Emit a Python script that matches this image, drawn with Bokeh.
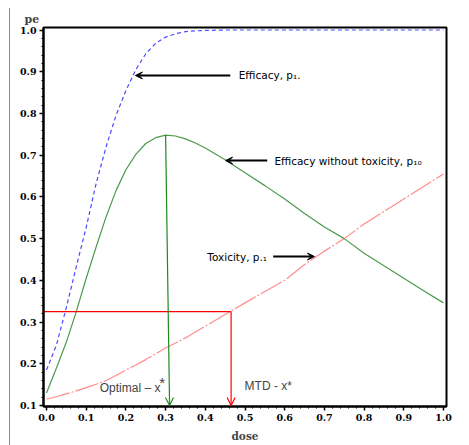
from bokeh.plotting import figure
from bokeh.models import (Arrow, VeeHead, OpenHead, Label, FixedTicker,
                          NumeralTickFormatter, Div)
from bokeh.layouts import row
from bokeh.embed import file_html
from bokeh.resources import INLINE

# dose grid shared by the three probability curves
dose = [0.0, 0.025, 0.05, 0.075, 0.1, 0.125, 0.15, 0.175, 0.2, 0.225, 0.25,
        0.275, 0.3, 0.325, 0.35, 0.375, 0.4, 0.45, 0.5, 0.55, 0.6, 0.65,
        0.7, 0.75, 0.8, 0.85, 0.9, 0.95, 1.0]

# efficacy p1.
efficacy = [0.185, 0.245, 0.335, 0.433, 0.527, 0.632, 0.72, 0.795, 0.855,
            0.905, 0.943, 0.968, 0.983, 0.991, 0.996, 0.998, 0.999, 1.0, 1.0,
            1.0, 1.0, 1.0, 1.0, 1.0, 1.0, 1.0, 1.0, 1.0, 1.0]

# efficacy without toxicity p10
eff_no_tox = [0.13, 0.19, 0.252, 0.325, 0.405, 0.48, 0.552, 0.615, 0.665,
              0.702, 0.728, 0.742, 0.748, 0.746, 0.739, 0.729, 0.717, 0.689,
              0.658, 0.627, 0.595, 0.56, 0.528, 0.5, 0.465, 0.435, 0.405,
              0.375, 0.346]

# toxicity p.1
toxicity = [0.115, 0.121, 0.128, 0.135, 0.143, 0.151, 0.16, 0.172, 0.185,
            0.197, 0.21, 0.224, 0.238, 0.25, 0.262, 0.276, 0.29, 0.318,
            0.346, 0.373, 0.40, 0.438, 0.47, 0.50, 0.535, 0.565, 0.595,
            0.625, 0.655]

tick_values = [0.0, 0.1, 0.2, 0.3, 0.4, 0.5, 0.6, 0.7, 0.8, 0.9, 1.0]
y_tick_values = [0.1, 0.2, 0.3, 0.4, 0.5, 0.6, 0.7, 0.8, 0.9, 1.0]

tox_target = 0.325   # acceptable toxicity level
mtd_dose = 0.465     # maximum tolerated dose
opt_dose = 0.31      # optimal dose
y_floor = 0.1

x_lo, x_hi = -0.0076, 1.0076
p = figure(width=459, height=445, x_range=(x_lo, x_hi), y_range=(0.0976, 1.006),
           output_backend="svg", toolbar_location=None,
           min_border_left=33, min_border_right=23, min_border_top=27,
           min_border_bottom=39, margin=0)
p.grid.visible = False
p.background_fill_color = "white"
p.border_fill_color = "white"
p.outline_line_color = "black"
p.outline_line_width = 2
p.outline_line_alpha = 1

serif = "DejaVu Serif"
p.title.text = "pe"
p.title.align = "left"
p.title.offset = -19
p.title.text_font = serif
p.title.text_font_style = "bold"
p.title.text_font_size = "11px"
p.title.standoff = 4

for ax, ticks in ((p.xaxis[0], tick_values), (p.yaxis[0], y_tick_values)):
    ax.ticker = FixedTicker(ticks=ticks,
                            minor_ticks=[round(0.02 * i, 2) for i in range(51)])
    ax.formatter = NumeralTickFormatter(format="0.0")
    ax.axis_line_width = 2
    ax.axis_line_color = "black"
    ax.major_tick_out = 4
    ax.major_tick_in = 0
    ax.minor_tick_out = 2
    ax.minor_tick_in = 0
    ax.major_tick_line_width = 1.5
    ax.major_label_text_font = serif
    ax.major_label_text_font_style = "bold"
    ax.major_label_text_font_size = "9.5px"
    ax.major_label_text_color = "black"
    ax.major_label_standoff = 3

p.xaxis.axis_label = "dose"
p.xaxis.axis_label_text_font = serif
p.xaxis.axis_label_text_font_style = "bold"
p.xaxis.axis_label_text_font_size = "10.5px"
p.xaxis.axis_label_standoff = 6

# curves
p.line(dose, efficacy, line_color="#4b4bff", line_width=1.2, line_dash="4 3")
p.line(dose, eff_no_tox, line_color="#4c9a4c", line_width=1.2)
p.line(dose, toxicity, line_color="#ff5a5a", line_width=1.2,
       line_dash="24 2 2 2", line_alpha=0.7)

# optimal dose: from the peak of p10 down to the axis
i_peak = max(range(len(dose)), key=lambda i: eff_no_tox[i])
p.add_layout(Arrow(x_start=dose[i_peak], y_start=eff_no_tox[i_peak],
                   x_end=opt_dose, y_end=y_floor, line_color="#1f8a1f",
                   line_width=1.2,
                   end=OpenHead(size=8, line_color="#1f8a1f", line_width=1.2)))

# MTD: toxicity target across to the curve, then down
p.line([x_lo, mtd_dose], [tox_target, tox_target], line_color="red",
       line_width=1.2)
p.add_layout(Arrow(x_start=mtd_dose, y_start=tox_target, x_end=mtd_dose,
                   y_end=y_floor, line_color="red", line_width=1.2,
                   end=OpenHead(size=8, line_color="red", line_width=1.2)))

# labelled pointers
sans = "DejaVu Sans"
pointers = [
    (0.463, 0.224, 0.891, 0.484, "Efficacy, p\u2081."),
    (0.556, 0.451, 0.687, 0.574, "Efficacy without toxicity, p\u2081\u2080"),
]
for xs, xe, yy, xt, txt in pointers:
    p.add_layout(Arrow(x_start=xs, y_start=yy, x_end=xe, y_end=yy,
                       line_color="black", line_width=2,
                       end=VeeHead(size=7, fill_color="black",
                                   line_color="black", line_width=1)))
    p.add_layout(Label(x=xt, y=yy, text=txt, text_font=sans,
                       text_font_size="10.5px", text_baseline="middle",
                       text_align="left", text_color="black"))

p.add_layout(Arrow(x_start=0.571, y_start=0.457, x_end=0.675, y_end=0.457,
                   line_color="black", line_width=2,
                   end=VeeHead(size=7, fill_color="black", line_color="black",
                               line_width=1)))
p.add_layout(Label(x=0.405, y=0.457, text="Toxicity, p.\u2081", text_font=sans,
                   text_font_size="10.5px", text_baseline="middle",
                   text_align="left", text_color="black"))

arial = "Liberation Sans"
p.add_layout(Label(x=0.134, y=0.143, text="Optimal \u2013 x", text_font=arial,
                   text_font_size="12px", text_baseline="middle",
                   text_align="left"))
p.add_layout(Label(x=0.284, y=0.156, text="*", text_font=arial,
                   text_font_size="15px", text_baseline="middle",
                   text_align="left"))
p.add_layout(Label(x=0.499, y=0.146, text="MTD - x*", text_font=arial,
                   text_font_size="12px", text_baseline="middle",
                   text_align="left"))

edge = Div(text="", width=10, height=437, margin=(8, 0, 0, 0),
           styles={"border-right": "1.5px solid #8a8a8a",
                   "box-sizing": "border-box"})
layout = row(edge, p, spacing=0)

open("out.html", "w").write(file_html(layout, INLINE))
